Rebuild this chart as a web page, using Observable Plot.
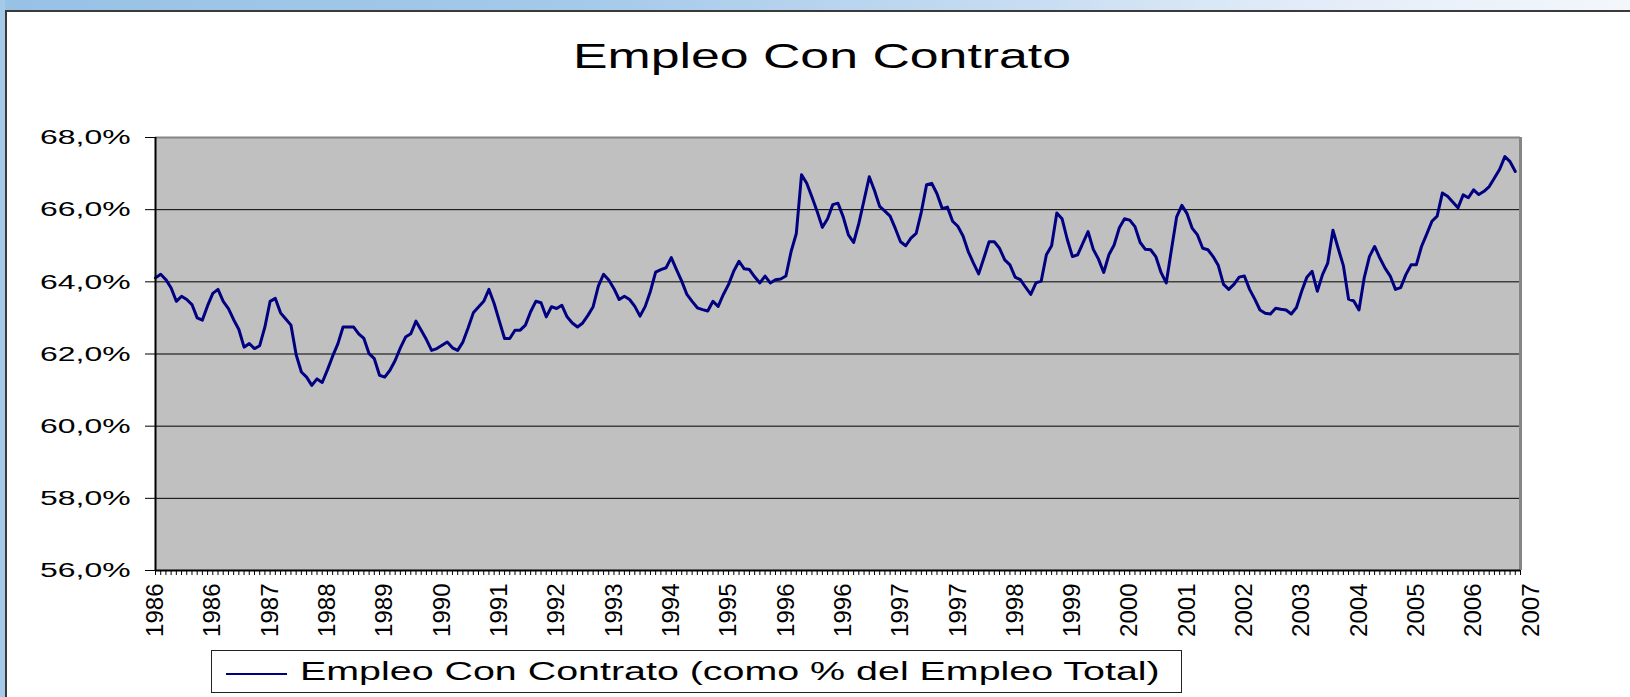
<!DOCTYPE html>
<html>
<head>
<meta charset="utf-8">
<script src="https://cdn.jsdelivr.net/npm/d3@7"></script>
<script src="https://cdn.jsdelivr.net/npm/@observablehq/plot@0.6"></script>
<style>
html, body { margin:0; padding:0; width:1630px; height:697px; overflow:hidden; background:#fff;
  font-family:"Liberation Sans", Arial, Helvetica, sans-serif; }
#band { position:absolute; left:0; top:0; width:1630px; height:10px;
  background:linear-gradient(to right, #97c2e5 0%, #a4c9e9 35%, #c3daf1 60%, #e2ecf8 80%, #f3f7fc 100%); }
#strip { position:absolute; left:0; top:0; width:5px; height:697px; background:#a5c9e8; }
#frame { position:absolute; left:5px; top:10px; width:1640px; height:700px; box-sizing:border-box;
  border-left:2px solid #3a3a3a; border-top:2px solid #3a3a3a; background:#fff; }
#chart { position:absolute; left:0; top:0; }
#title { position:absolute; left:821.5px; top:38.4px; font-size:35px; line-height:35px; white-space:nowrap;
  color:#000; transform:translateX(-50%) scaleX(1.48); }
#legend { position:absolute; left:211px; top:650px; width:971px; height:43px; box-sizing:border-box;
  border:1px solid #222; background:#fff; }
#legend .sw { position:absolute; left:14px; top:22px; width:61px; height:2px; background:#000080; }
#legend .lt { position:absolute; left:88px; top:7px; font-size:26px; line-height:26px; white-space:nowrap;
  transform-origin:left center; transform:scaleX(1.515); color:#000; }
</style>
</head>
<body>
<div id="band"></div>
<div id="strip"></div>
<div id="frame"></div>
<div id="chart"></div>
<div id="title">Empleo Con Contrato</div>
<div id="legend"><div class="sw"></div><div class="lt">Empleo Con Contrato (como % del Empleo Total)</div></div>
<script>
// ---- data ----
const seriesName = "Empleo Con Contrato (como % del Empleo Total)";
const values = [
  64.11, 64.21, 64.06, 63.83, 63.46, 63.60, 63.51, 63.37, 63.00, 62.94,
  63.34, 63.68, 63.79, 63.46, 63.26, 62.95, 62.68, 62.19, 62.29, 62.15,
  62.23, 62.75, 63.46, 63.54, 63.14, 62.97,
  62.80, 61.98, 61.50, 61.36, 61.13, 61.31, 61.21, 61.56, 61.94, 62.28,
  62.75, 62.75, 62.75, 62.56, 62.43, 62.01, 61.87, 61.41, 61.36, 61.55,
  61.82, 62.17, 62.47, 62.56, 62.91, 62.66, 62.40, 62.10, 62.15, 62.24,
  62.33, 62.17, 62.10, 62.33, 62.72, 63.14, 63.30,
  63.46, 63.79, 63.40, 62.91, 62.43, 62.43, 62.66, 62.66, 62.80, 63.17,
  63.46, 63.42, 63.03, 63.31, 63.26, 63.35, 63.03, 62.86, 62.75, 62.86,
  63.07, 63.31, 63.88, 64.21, 64.05, 63.81, 63.51, 63.60, 63.51, 63.32,
  63.05, 63.32, 63.74, 64.27, 64.34, 64.39, 64.67, 64.34, 64.02, 63.65,
  63.46, 63.28, 63.23, 63.19, 63.46, 63.32, 63.65, 63.93, 64.30, 64.57,
  64.36, 64.34, 64.14, 63.97, 64.16, 63.97, 64.06, 64.08, 64.16, 64.84,
  65.34, 66.97, 66.73, 66.35, 65.95, 65.51, 65.75, 66.14, 66.18, 65.80,
  65.30, 65.09, 65.62, 66.26, 66.91, 66.53, 66.09, 65.96, 65.82, 65.48,
  65.11, 65.00, 65.21, 65.34, 65.94, 66.69, 66.73, 66.44, 66.03, 66.07,
  65.68, 65.54, 65.27, 64.84, 64.52,
  64.22, 64.66, 65.11, 65.11,
  64.93, 64.61, 64.47, 64.13, 64.06, 63.85, 63.65, 63.97, 64.02, 64.75,
  65.00, 65.91, 65.75, 65.18, 64.70, 64.75, 65.07, 65.39, 64.90, 64.63,
  64.26, 64.75, 65.02, 65.50, 65.75, 65.71, 65.53, 65.09, 64.90, 64.89,
  64.70, 64.26, 63.97, 64.89, 65.80, 66.12, 65.89, 65.48, 65.30, 64.93,
  64.89, 64.70, 64.45, 63.93, 63.79, 63.93, 64.13, 64.16, 63.79, 63.52,
  63.22, 63.13, 63.11, 63.27, 63.24, 63.22, 63.11, 63.29, 63.74, 64.13,
  64.29, 63.74, 64.20, 64.52, 65.43, 64.93, 64.45,
  63.52, 63.47,
  63.22, 64.11, 64.70, 64.98, 64.66, 64.38, 64.16, 63.79, 63.84, 64.20,
  64.47, 64.47, 64.98, 65.32, 65.68, 65.82, 66.46, 66.37, 66.21, 66.05,
  66.41, 66.33, 66.55, 66.42, 66.51, 66.64, 66.88, 67.12,
  67.47, 67.33, 67.06
];
const tickLabels = ["1986","1986","1987","1988","1989","1990","1991","1992","1993","1994",
  "1995","1996","1996","1997","1997","1998","1999","2000","2001","2002",
  "2003","2004","2005","2006","2007"];
const labelEvery = 11;
const yTicks = [56, 58, 60, 62, 64, 66, 68];

// ---- chart ----
const W = 1630, H = 697, mL = 155, mR = 110, mT = 137, mB = 127;
const n = values.length;
const rows = values.map((v, i) => ({i, v}));
const minorTicks = d3.range(0, n + 1);
const labelRows = tickLabels.map((t, k) => ({i: k * labelEvery, t}));
const fmt = d => d.toFixed(1).replace(".", ",") + "%";

const svg = Plot.plot({
  width: W, height: H,
  marginLeft: mL, marginRight: mR, marginTop: mT, marginBottom: mB,
  style: {fontFamily: '"Liberation Sans", Arial, sans-serif', fontSize: "21px", color: "#000",
          background: "transparent", overflow: "visible"},
  x: {domain: [0, n], axis: null},
  y: {domain: [56, 68], label: null},
  marks: [
    Plot.frame({fill: "#c0c0c0", stroke: null}),
    Plot.gridY(yTicks.slice(1, -1), {stroke: "#000", strokeOpacity: 1, strokeWidth: 1}),
    Plot.ruleY([68], {stroke: "#858585", strokeWidth: 2}),
    Plot.ruleX([n], {stroke: "#858585", strokeWidth: 3}),
    Plot.line(rows, {x: "i", y: "v", stroke: "#000080", strokeWidth: 3}),
    Plot.ruleX([0], {stroke: "#000", strokeWidth: 2}),
    Plot.axisY({ticks: yTicks, tickSize: 10, tickPadding: 15, tickFormat: fmt, label: null, stroke: "#000"}),
    Plot.ruleY([56], {stroke: "#000", strokeWidth: 2}),
    Plot.tickX(minorTicks, {x: d => d, insetTop: H - mT - mB, insetBottom: -5, stroke: "#000", strokeWidth: 1}),
    Plot.text(labelRows, {x: "i", text: "t", frameAnchor: "bottom", rotate: -90, textAnchor: "end",
      lineAnchor: "middle", dy: 13, fontSize: 24, fill: "#000"})
  ]
});
document.getElementById("chart").appendChild(svg);

// horizontally stretched y tick labels, as in the original Excel rendering
svg.querySelectorAll('g[aria-label="y-axis tick label"] text').forEach(t => {
  const b = t.getBBox();
  const ax = b.x + b.width;
  const prev = t.getAttribute("transform") || "";
  t.setAttribute("transform", `${prev} translate(${ax},0) scale(1.52,1) translate(${-ax},0)`);
});
</script>
</body>
</html>
